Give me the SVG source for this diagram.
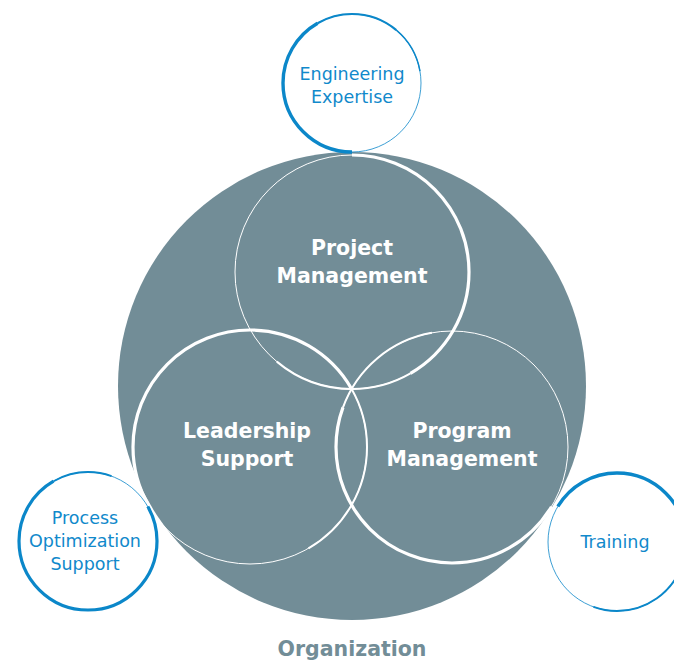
<svg xmlns="http://www.w3.org/2000/svg" width="674" height="661" viewBox="0 0 674 661">
<style>
.wt{fill:none;stroke:#ffffff}
.bl{fill:none;stroke:#0b87c9}
.lbl{font-family:"DejaVu Sans",sans-serif;font-size:17.5px;fill:#1189cb;text-anchor:middle}
.wl{font-family:"DejaVu Sans",sans-serif;font-size:20.5px;font-weight:700;fill:#ffffff;text-anchor:middle}
.org{font-family:"DejaVu Sans",sans-serif;font-size:20.5px;font-weight:700;fill:#728d97;text-anchor:middle}
</style>
<rect width="674" height="661" fill="#ffffff"/>
<g id="organization">
<circle cx="352" cy="386" r="234" fill="#728d97"/>
<text class="org" x="352" y="656">Organization</text>
</g>
<g id="project-management">
<circle class="wt" cx="352" cy="272" r="117" stroke-width="1"/>
<circle class="wt" cx="352" cy="272" r="117" pathLength="360" stroke-dasharray="150 210" stroke-dashoffset="90" stroke-width="3.2"/>
<circle class="wt" cx="352" cy="272" r="117" pathLength="360" stroke-dasharray="70 290" stroke-dashoffset="300" stroke-width="2"/>
<text class="wl" x="352" y="255">Project</text>
<text class="wl" x="352" y="283">Management</text>
</g>
<g id="leadership-support">
<circle class="wt" cx="250" cy="447" r="117" stroke-width="1"/>
<circle class="wt" cx="250" cy="447" r="117" pathLength="360" stroke-dasharray="180 180" stroke-dashoffset="210" stroke-width="3.2"/>
<circle class="wt" cx="250" cy="447" r="117" pathLength="360" stroke-dasharray="90 270" stroke-dashoffset="30" stroke-width="2"/>
<text class="wl" x="247" y="438">Leadership</text>
<text class="wl" x="247" y="466">Support</text>
</g>
<g id="program-management">
<circle class="wt" cx="452" cy="447" r="116" stroke-width="1"/>
<circle class="wt" cx="452" cy="447" r="116" pathLength="360" stroke-dasharray="169 191" stroke-dashoffset="329" stroke-width="3.2"/>
<circle class="wt" cx="452" cy="447" r="116" pathLength="360" stroke-dasharray="60 300" stroke-dashoffset="160" stroke-width="2"/>
<text class="wl" x="462" y="438">Program</text>
<text class="wl" x="462" y="466">Management</text>
</g>
<g id="engineering-expertise">
<circle class="bl" cx="352" cy="83" r="69" stroke-width="0.8" fill="#ffffff"/>
<circle class="bl" cx="352" cy="83" r="69" pathLength="360" stroke-dasharray="150 210" stroke-dashoffset="270" stroke-width="3.4"/>
<circle class="bl" cx="352" cy="83" r="69" pathLength="360" stroke-dasharray="70 290" stroke-dashoffset="120" stroke-width="2.2"/>
<circle class="bl" cx="352" cy="83" r="69" pathLength="360" stroke-dasharray="40 320" stroke-dashoffset="50" stroke-width="1.4"/>
<text class="lbl" x="352" y="80">Engineering</text>
<text class="lbl" x="352" y="103">Expertise</text>
</g>
<g id="process-optimization-support">
<circle class="bl" cx="88" cy="541" r="69" stroke-width="0.8" fill="#ffffff"/>
<circle class="bl" cx="88" cy="541" r="69" pathLength="360" stroke-dasharray="270 90" stroke-dashoffset="30" stroke-width="3.2"/>
<circle class="bl" cx="88" cy="541" r="69" pathLength="360" stroke-dasharray="50 310" stroke-dashoffset="120" stroke-width="1.8"/>
<text class="lbl" x="85" y="524">Process</text>
<text class="lbl" x="85" y="547">Optimization</text>
<text class="lbl" x="85" y="570">Support</text>
</g>
<g id="training">
<circle class="bl" cx="617" cy="542" r="69" stroke-width="0.8" fill="#ffffff"/>
<circle class="bl" cx="617" cy="542" r="69" pathLength="360" stroke-dasharray="169 191" stroke-dashoffset="149" stroke-width="3.4"/>
<circle class="bl" cx="617" cy="542" r="69" pathLength="360" stroke-dasharray="90 270" stroke-dashoffset="340" stroke-width="2"/>
<text class="lbl" x="615" y="548">Training</text>
</g>
</svg>
